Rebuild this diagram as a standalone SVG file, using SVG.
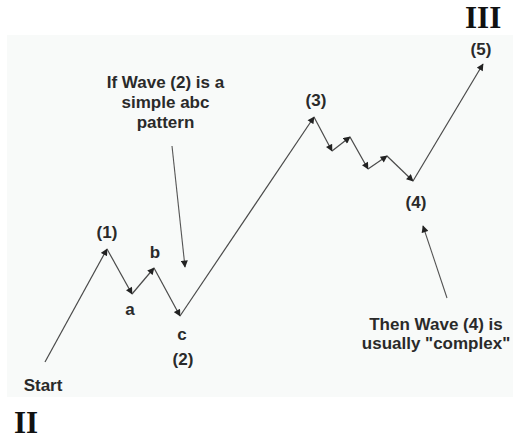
<svg xmlns="http://www.w3.org/2000/svg" width="513" height="442" viewBox="0 0 513 442">
  <style>
    .lbl { font-family: "Liberation Sans", Arial, sans-serif; font-weight: bold; font-size: 17px; fill: #2a2a2a; text-anchor: middle; }
    .roman { font-family: "Liberation Serif", "Times New Roman", serif; font-weight: bold; font-size: 31px; fill: #111; }
    .wave { fill: none; stroke: #4a4a4a; stroke-width: 1.2; marker-end: url(#ah); }
    .note { fill: none; stroke: #555; stroke-width: 1.1; marker-end: url(#ah); }
  </style>
  <defs>
    <marker id="ah" viewBox="0 0 10 10" refX="9" refY="5" markerWidth="8" markerHeight="7" markerUnits="userSpaceOnUse" orient="auto">
      <path d="M0,0 L10,5 L0,10 z" fill="#222"/>
    </marker>
  </defs>
  <rect x="0" y="0" width="513" height="442" fill="#ffffff"/>
  <rect id="panel" x="7" y="35" width="506" height="362" fill="#f8faf9"/>

  <g id="connectors">
    <path class="wave" d="M45,362 L107,249"/>
    <path class="wave" d="M107,249 L132,294"/>
    <path class="wave" d="M132,294 L154,268"/>
    <path class="wave" d="M154,268 L180,316"/>
    <path class="wave" d="M180,316 L314,117"/>
    <path class="wave" d="M314,117 L332,151"/>
    <path class="wave" d="M332,151 L350,137"/>
    <path class="wave" d="M350,137 L368,169"/>
    <path class="wave" d="M368,169 L387,156"/>
    <path class="wave" d="M387,156 L413,181"/>
    <path class="wave" d="M413,181 L483,64"/>
    <path class="note" d="M172,146 L185,267"/>
    <path class="note" d="M447,298 L423,226"/>
  </g>

  <g id="start"><text class="lbl" x="43" y="391">Start</text></g>
  <g id="w1"><text class="lbl" x="107" y="238">(1)</text></g>
  <g id="wa"><text class="lbl" x="130" y="315">a</text></g>
  <g id="wb"><text class="lbl" x="155" y="258">b</text></g>
  <g id="wc"><text class="lbl" x="182" y="340">c</text></g>
  <g id="w2"><text class="lbl" x="183" y="365">(2)</text></g>
  <g id="w3"><text class="lbl" x="316" y="106">(3)</text></g>
  <g id="w4"><text class="lbl" x="416" y="208">(4)</text></g>
  <g id="w5"><text class="lbl" x="481" y="55">(5)</text></g>
  <g id="note1">
    <text class="lbl" x="165.5" y="88">If Wave (2) is a</text>
    <text class="lbl" x="165.5" y="108">simple abc</text>
    <text class="lbl" x="165.5" y="128">pattern</text>
  </g>
  <g id="note2">
    <text class="lbl" x="436" y="330">Then Wave (4) is</text>
    <text class="lbl" x="436" y="349">usually "complex"</text>
  </g>
  <g id="roman-iii"><text class="roman" x="465" y="28">III</text></g>
  <g id="roman-ii"><text class="roman" x="14" y="433">II</text></g>
</svg>
